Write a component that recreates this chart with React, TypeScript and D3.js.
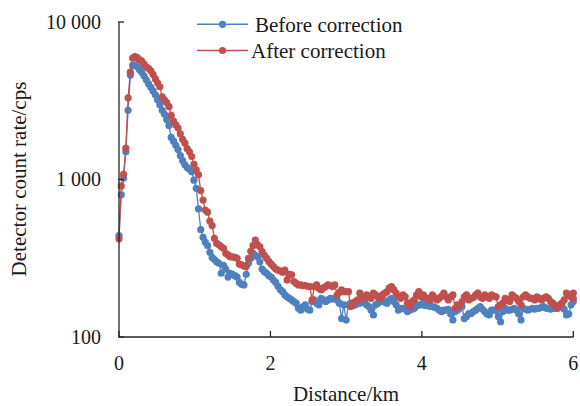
import React from "react";
import * as d3 from "d3";

const STEP_KM = 0.03;

const beforeValues: number[] = [
  440, 800, 1020, 1500, 2750, 4600, 5300, 5350, 5200, 5000,
  4800, 4550, 4300, 4050, 3850, 3650, 3450, 3200, 2980, 2750,
  2600, 2400, 2200, 1850, 1750, 1650, 1550, 1420, 1320, 1240,
  1190, 1160, 1120, 990, 880, 650, 480, 430, 400, 380,
  345, 320, 310, 300, 294, 254, 285, 270, 240, 254,
  250, 245, 240, 222, 216, 214, 250, 294, 315, 340,
  330, 323, 300, 270, 260, 254, 245, 240, 230, 222,
  210, 200, 194, 185, 180, 176, 172, 168, 164, 152,
  148, 156, 160, 150, 148, 168, 172, 164, 160, 176,
  172, 168, 172, 176, 174, 176, 172, 164, 131, 160,
  128, 160, 164, 158, 160, 164, 164, 166, 168, 160,
  156, 148, 138, 160, 164, 168, 172, 166, 164, 172,
  176, 168, 160, 148, 152, 152, 150, 145, 148, 150,
  152, 158, 160, 160, 164, 158, 160, 156, 156, 154,
  152, 148, 145, 148, 148, 150, 140, 128, 145, 148,
  152, 156, 131, 135, 141, 141, 145, 148, 152, 156,
  150, 145, 140, 138, 148, 148, 148, 135, 125, 145,
  152, 148, 148, 150, 152, 148, 140, 128, 152, 150,
  148, 150, 152, 150, 152, 152, 154, 156, 152, 152,
  150, 152, 152, 152, 154, 156, 150, 138, 140, 160,
  168,
];

const afterValues: number[] = [
  420, 910, 1080, 1580, 3300, 4800, 5900, 6020, 5950, 5750,
  5650, 5400, 5200, 5070, 4900, 4650, 4350, 4100, 3880, 3350,
  3200, 3080, 2900, 2550, 2350, 2220, 2120, 1950, 1800, 1700,
  1570, 1500, 1400, 1250, 1150, 1070, 850, 740, 640, 620,
  545, 510, 423, 393, 385, 374, 366, 340, 332, 323,
  323, 320, 316, 290, 287, 282, 280, 316, 350, 380,
  413, 385, 374, 348, 330, 316, 301, 290, 280, 270,
  266, 262, 258, 266, 230, 250, 248, 225, 219, 214,
  214, 212, 212, 210, 209, 172, 209, 214, 204, 199,
  205, 209, 214, 212, 209, 214, 185, 192, 199, 194,
  194, 194, 156, 164, 168, 172, 190, 180, 176, 185,
  180, 176, 190, 185, 180, 176, 185, 190, 194, 205,
  209, 199, 190, 180, 176, 185, 180, 164, 156, 168,
  172, 185, 194, 180, 185, 178, 176, 172, 185, 178,
  172, 176, 182, 190, 180, 172, 180, 185, 152, 160,
  158, 168, 180, 185, 172, 176, 178, 185, 190, 180,
  176, 185, 180, 176, 185, 182, 180, 156, 160, 164,
  176, 172, 168, 185, 180, 176, 168, 160, 180, 185,
  180, 176, 176, 172, 180, 176, 172, 176, 180, 176,
  168, 164, 158, 152, 160, 164, 172, 190, 185, 180,
  176, 190,
];

const xTicks = [0, 2, 4, 6];
const yTicks = [100, 1000, 10000];
const yTickLabels = ["100", "1 000", "10 000"];

const seriesNames = ["Before correction", "After correction"];
const seriesColors = ["#4F81BD", "#C0504D"];

const W = 580;
const H = 406;
const FONT = "'Liberation Serif', 'Times New Roman', serif";

export default function App() {
  const x = d3.scaleLinear().domain([0, 6]).range([119, 573.3]);
  const y = d3.scaleLog().domain([100, 10000]).range([337, 22]);

  const series = [beforeValues, afterValues].map((vals) =>
    vals.map((v, i) => ({ km: Math.min(6, i * STEP_KM), v }))
  );

  const line = d3
    .line<{ km: number; v: number }>()
    .x((d) => x(d.km))
    .y((d) => y(d.v));

  const axisColor = "#262626";

  return (
    <svg
      width={W}
      height={H}
      style={{ position: "absolute", left: 0, top: 0, background: "#fff" }}
      fontFamily={FONT}
    >
      {/* series */}
      {series.map((pts, si) => (
        <g key={si}>
          <path
            d={line(pts) || ""}
            fill="none"
            stroke={seriesColors[si]}
            strokeWidth={1.3}
          />
          {pts.map((p, i) => (
            <circle
              key={i}
              cx={x(p.km)}
              cy={y(p.v)}
              r={3.6}
              fill={seriesColors[si]}
            />
          ))}
        </g>
      ))}

      {/* axes */}
      <line x1={x(0)} x2={x(0)} y1={y(10000)} y2={y(100)} stroke={axisColor} strokeWidth={1.3} />
      <line x1={x(0)} x2={x(6)} y1={y(100)} y2={y(100)} stroke={axisColor} strokeWidth={1.3} />
      {xTicks.map((t) => (
        <g key={t}>
          <line x1={x(t)} x2={x(t)} y1={y(100)} y2={y(100) - 6} stroke={axisColor} strokeWidth={1.3} />
          <text x={x(t)} y={370} textAnchor="middle" fontSize={20} fill="#1a1a1a">
            {t}
          </text>
        </g>
      ))}
      {yTicks.map((t, i) => (
        <g key={t}>
          <line x1={x(0) - 1} x2={x(0) + 5} y1={y(t)} y2={y(t)} stroke={axisColor} strokeWidth={1.3} />
          <text x={101} y={y(t) + 6.8} textAnchor="end" fontSize={20} fill="#1a1a1a">
            {yTickLabels[i]}
          </text>
        </g>
      ))}

      {/* axis titles */}
      <text x={346} y={401} textAnchor="middle" fontSize={21} fill="#1a1a1a">
        Distance/km
      </text>
      <text
        transform={`translate(26, 179) rotate(-90)`}
        textAnchor="middle"
        fontSize={21}
        fill="#1a1a1a"
      >
        Detector count rate/cps
      </text>

      {/* legend */}
      {seriesNames.map((name, i) => {
        const ly = i === 0 ? 24.3 : 50.5;
        return (
          <g key={name}>
            <line x1={197} x2={248} y1={ly} y2={ly} stroke={seriesColors[i]} strokeWidth={1.5} />
            <circle cx={222.5} cy={ly} r={3.6} fill={seriesColors[i]} />
            <text x={i === 0 ? 255 : 251} y={ly + 7.5} fontSize={21} fill="#1a1a1a">
              {name}
            </text>
          </g>
        );
      })}
    </svg>
  );
}
